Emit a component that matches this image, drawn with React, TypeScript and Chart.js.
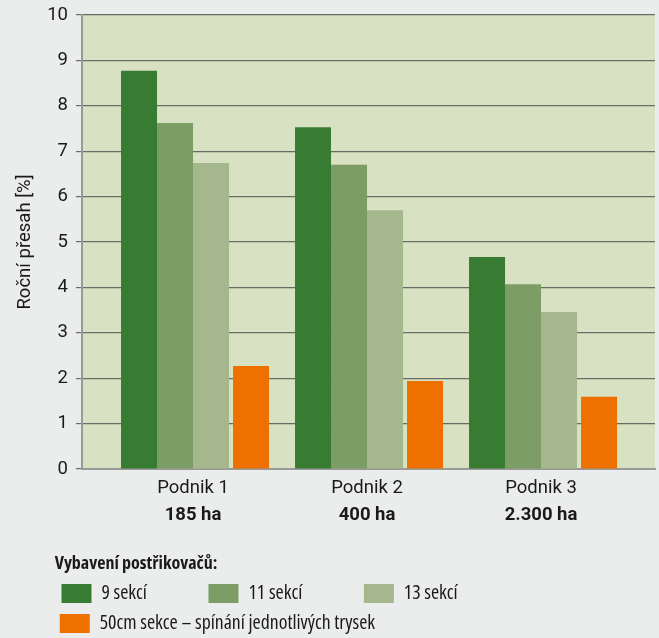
import React, { useEffect, useRef } from "react";
import { Chart, registerables } from "chart.js";

Chart.register(...registerables);

const categories = ["Podnik 1", "Podnik 2", "Podnik 3"];
const areas = ["185 ha", "400 ha", "2.300 ha"];
const seriesNames = ["9 sekcí", "11 sekcí", "13 sekcí", "50cm sekce – spínání jednotlivých trysek"];
const sekci9 = [8.77, 7.53, 4.67];
const sekci11 = [7.62, 6.7, 4.07];
const sekci13 = [6.74, 5.7, 3.46];
const sekce50 = [2.27, 1.94, 1.59];
const yTicks = [0, 1, 2, 3, 4, 5, 6, 7, 8, 9, 10];
const yTitle = "Roční přesah [%]";
const legendTitle = "Vybavení postřikovačů:";

const colors = ["#387c34", "#7c9d66", "#a4b78d", "#ee7100"];
const AXIS_FONT = "Roboto, 'Liberation Sans', sans-serif";
const LEGEND_FONT = "'Open Sans', sans-serif";
const TEXT = "#1a1a1a";

export default function App() {
  const ref = useRef<HTMLCanvasElement | null>(null);
  useEffect(() => {
    document.body.style.margin = "0";
    document.body.style.background = "#ebecec";
    document.body.style.overflow = "hidden";
    const canvas = ref.current!;
    const series = [sekci9, sekci11, sekci13, sekce50];
    const legendTargets = [147, 157, 241, 544];
    const legendSize = 19.8;
    const legendPad = 10.2;
    const boxW = 30;

    const bgPlugin = {
      id: "plotBg",
      beforeDraw(chart: any) {
        const { ctx, chartArea } = chart;
        ctx.save();
        ctx.fillStyle = "#d8e1c1";
        ctx.fillRect(chartArea.left, chartArea.top, chartArea.right - chartArea.left, chartArea.bottom - chartArea.top);
        ctx.restore();
      },
    };

    const setTicks = (scale: any) => {
      scale.ticks = categories.map((_, i) => ({ value: i + 1 }));
    };

    const chart = new Chart(canvas, {
      type: "bar",
      data: {
        datasets: series.map((vals, k) => ({
          label: seriesNames[k],
          data: vals.map((v, i) => ({ x: i + 1, y: v })),
          backgroundColor: colors[k],
          borderWidth: 0,
          categoryPercentage: k < 3 ? 0.8276 : 0.889,
          barPercentage: k < 3 ? 1 : 0.931,
        })),
      },
      options: {
        animation: false,
        responsive: false,
        layout: { padding: { top: 15, right: 4, left: 0, bottom: -5.4 } },
        scales: {
          x: {
            type: "linear",
            position: "bottom",
            weight: 0,
            min: 0.362,
            max: 3.655,
            offset: false,
            afterBuildTicks: setTicks,
            afterFit: (s: any) => { s.height = 33; },
            grid: { display: false, drawTicks: false },
            border: { display: true, color: "#999999", width: 2 },
            ticks: {
              padding: 8,
              maxRotation: 0,
              autoSkip: false,
              color: TEXT,
              font: { family: AXIS_FONT, size: 18.5 },
              callback: (v: any) => categories[Number(v) - 1] ?? "",
            },
          },
          x2: {
            type: "linear",
            position: "bottom",
            weight: 1,
            min: 0.362,
            max: 3.655,
            offset: false,
            afterBuildTicks: setTicks,
            afterFit: (s: any) => { s.height = 30.4; },
            grid: { display: false, drawTicks: false },
            border: { display: false },
            ticks: {
              padding: 2,
              maxRotation: 0,
              autoSkip: false,
              color: TEXT,
              font: { family: AXIS_FONT, size: 18.5, weight: "bold" },
              callback: (v: any) => areas[Number(v) - 1] ?? "",
            },
          },
          y: {
            min: 0,
            max: 10,
            afterBuildTicks: (s: any) => { s.ticks = yTicks.map((v) => ({ value: v })); },
            afterFit: (s: any) => {
              s.width = 82;
              s.paddingTop = 0;
              s.paddingBottom = 0;
            },
            grid: { color: "#6a6d65", lineWidth: 1.2, drawTicks: true, tickLength: 6 },
            border: { display: true, color: "#999999", width: 2 },
            ticks: {
              padding: 8,
              color: TEXT,
              font: { family: AXIS_FONT, size: 18.5 },
            },
            title: {
              display: true,
              text: yTitle,
              color: TEXT,
              font: { family: AXIS_FONT, size: 18.5 },
              padding: { top: 14, bottom: 0 },
            },
          },
        },
        plugins: {
          tooltip: { enabled: false },
          legend: {
            position: "bottom",
            align: "center",
            title: {
              display: true,
              text: legendTitle,
              position: "start",
              color: TEXT,
              font: { family: LEGEND_FONT, size: 18, weight: "condensed bold", lineHeight: "19px" },
              padding: { top: 22.5, bottom: -0.5 },
            },
            labels: {
              boxWidth: boxW,
              boxHeight: 19,
              padding: legendPad,
              color: TEXT,
              font: { family: LEGEND_FONT, size: legendSize, weight: "condensed" },
              generateLabels: (ch: any) => {
                const items = (Chart.defaults.plugins.legend.labels as any).generateLabels(ch);
                const ctx = ch.ctx;
                ctx.save();
                ctx.font = `condensed ${legendSize}px ${LEGEND_FONT}`;
                items.forEach((it: any, i: number) => {
                  const target = legendTargets[i] - legendPad - boxW - legendSize / 2;
                  let t = it.text;
                  let guard = 0;
                  while (ctx.measureText(t + "\u00a0").width <= target + 2 && guard < 200) {
                    t += "\u00a0";
                    guard++;
                  }
                  it.text = t;
                });
                ctx.restore();
                return items;
              },
            },
          },
        },
      } as any,
      plugins: [bgPlugin],
    });
    return () => chart.destroy();
  }, []);
  return (
    <canvas
      ref={ref}
      width={659}
      height={638}
      style={{ display: "block", width: 659, height: 638, background: "#ebecec" }}
    />
  );
}
